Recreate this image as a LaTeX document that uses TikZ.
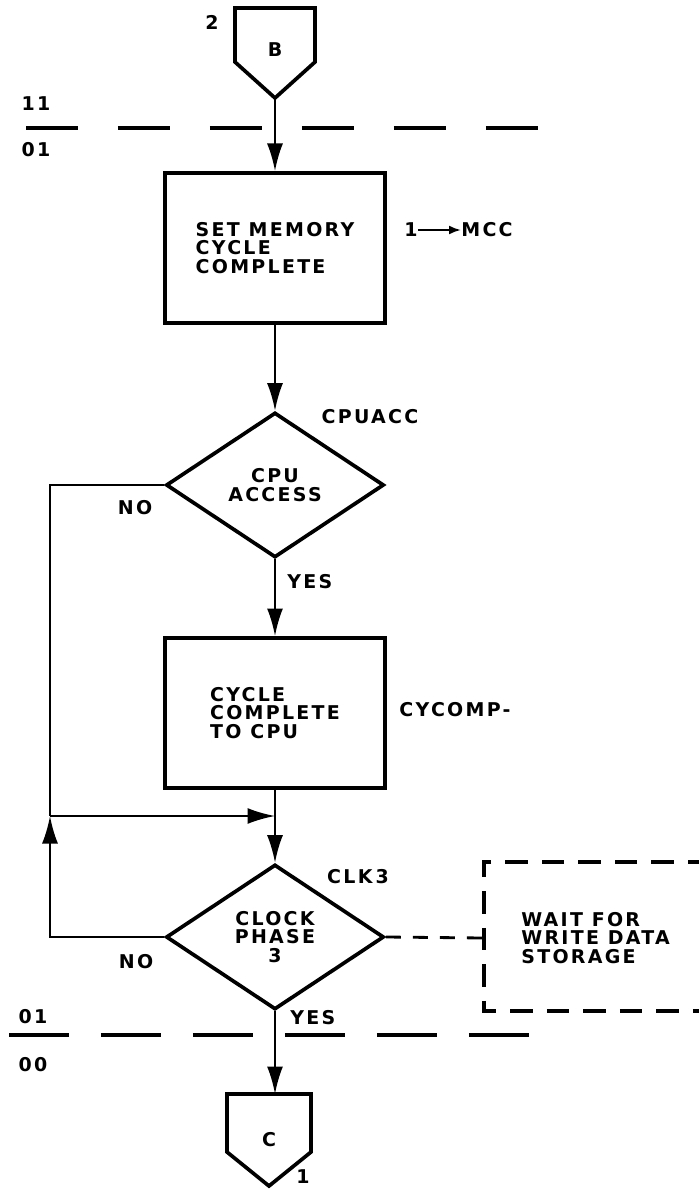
\documentclass[tikz,border=0pt]{standalone}
\usepackage{fontspec}
\setmainfont{DejaVu Sans}[LetterSpace=12]
\usepackage{tikz}
\usetikzlibrary{shapes.geometric,arrows.meta}

\begin{document}
\begin{tikzpicture}[x=0.02cm, y=-0.02cm, >={Latex[length=5.5mm,width=3.2mm]},
        lbl/.style={font=\fontsize{10.8}{10.6}\selectfont\bfseries, inner sep=0pt},
        proc/.style={draw, line width=2.3pt, minimum width=4.4cm, minimum height=3cm, align=left, lbl},
        decision/.style={draw, diamond, line width=2.1pt, minimum width=4.36cm, minimum height=2.9cm, align=center, lbl},
        conn/.style={line width=2.1pt, line join=miter},
        flow/.style={line width=1.2pt},
        arr/.style={->, flow},
        level/.style={line width=1.9pt, dash pattern=on 1.04cm off 0.8cm},
        lowlevel/.style={line width=1.9pt, dash pattern=on 1.2cm off 0.64cm},
        waitline/.style={line width=1.6pt, dash pattern=on 0.3cm off 0.24cm},
        waitbox/.style={line width=2.2pt, dash pattern=on 0.45cm off 0.28cm},
    ]
    \useasboundingbox (0,0) rectangle (699,1189);

    % Entry connector
    \draw[conn] (235,8) -- (315,8) -- (315,62) -- (275,98) -- (235,62) -- cycle;
    \node[lbl] (b_conn) at (275,50) {B};
    \node[lbl] (b_page) at (212,22) {2};
    \coordinate (b_tip) at (275,98);

    % Level 11 / 01
    \draw[level] (26,128) -- (540,128);
    \node[lbl] (lv11) at (36,104) {11};
    \node[lbl] (lv01a) at (36,150) {01};

    % Set memory cycle complete
    \node[proc] (set_mcc) at (275,248) {SET MEMORY\\CYCLE\\COMPLETE};
    \node[lbl] (one) at (411,230) {1};
    \node[lbl, anchor=west] (mcc) at (461,230) {MCC};
    \draw[->, >={Latex[length=2.4mm,width=1.8mm]}, flow] (one.east) -- (mcc.west);

    % CPU access
    \node[decision] (cpu_acc) at (275,485) {CPU\\ACCESS};
    \node[lbl] (cpuacc) at (370,417) {CPUACC};
    \node[lbl] (no1) at (135,508) {NO};
    \node[lbl, anchor=west] (yes1) at (287,582) {YES};

    % Cycle complete to CPU
    \node[proc] (cyc_cpu) at (275,713) {CYCLE\\COMPLETE\\TO CPU};
    \node[lbl] (cycomp) at (455,710) {CYCOMP-};

    % Clock phase 3
    \node[decision] (clk3) at (275,937) {CLOCK\\PHASE\\3};
    \node[lbl] (clk3lbl) at (358,877) {CLK\,3};
    \node[lbl] (no2) at (136,962) {NO};
    \node[lbl, anchor=west] (yes2) at (290,1018) {YES};

    % Wait box (side)
    \node[lbl, anchor=west, align=left] (wait) at (521,938) {WAIT FOR\\WRITE DATA\\STORAGE};
    \draw[waitbox] (710,862) -| (484,1011) -- (710,1011);
    \coordinate (wait_w) at (484,938);

    % Level 01 / 00
    \draw[lowlevel] (9,1035) -- (535,1035);
    \node[lbl] (lv01b) at (33,1017) {01};
    \node[lbl] (lv00) at (33,1065) {00};

    % Exit connector
    \draw[conn] (227,1094) -- (311,1094) -- (311,1152) -- (269,1186) -- (227,1152) -- cycle;
    \node[lbl] (c_conn) at (269,1140) {C};
    \node[lbl] (c_page) at (303,1177) {1};
    \coordinate (c_top) at (275,1094);

    % Junctions
    \coordinate (j_left) at (50,816);
    \coordinate (j_axis) at (275,816);

    % Arrows
    \draw[arr] (b_tip) -- (set_mcc.north);
    \draw[arr] (set_mcc.south) -- (cpu_acc.north);
    \draw[arr] (cpu_acc.south) -- (cyc_cpu.north);
    \draw[arr] (cyc_cpu.south) -- (clk3.north);
    \draw[flow] (cpu_acc.west) -| (j_left);
    \draw[arr] (clk3.west) -| (j_left);
    \draw[arr] (j_left) -- (j_axis);
    \draw[waitline] (clk3.east) -- (wait_w);
    \draw[arr] (clk3.south) -- (c_top);

\end{tikzpicture}
\end{document}
